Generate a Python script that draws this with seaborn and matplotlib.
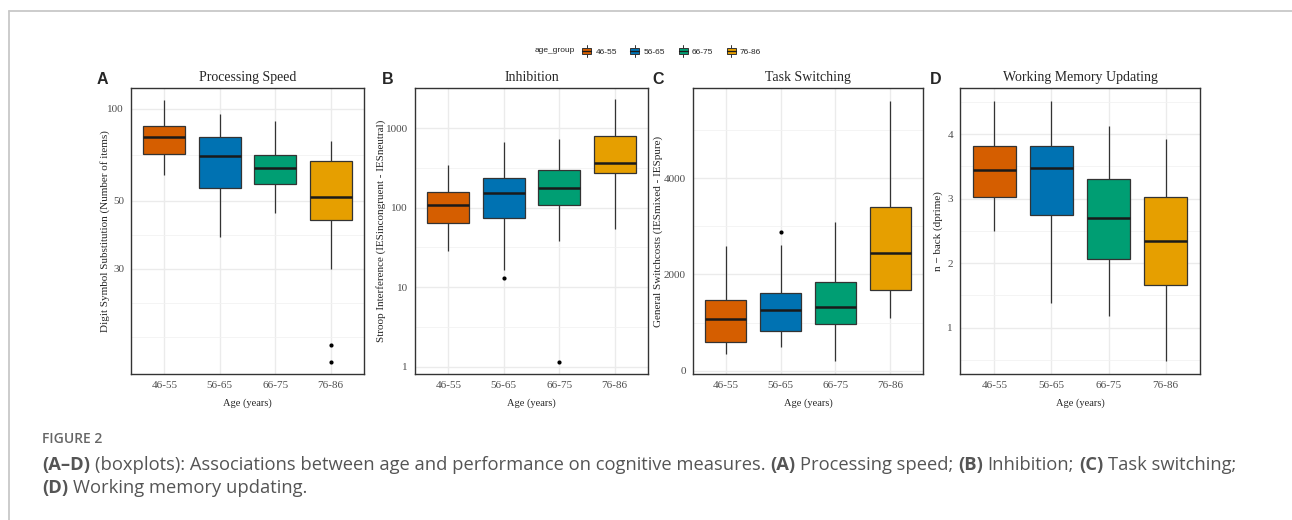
import numpy as np
import pandas as pd
import seaborn as sns
import matplotlib.pyplot as plt
from matplotlib.lines import Line2D
from matplotlib.patches import Rectangle
from matplotlib.legend_handler import HandlerBase
from matplotlib.ticker import FixedLocator, NullFormatter

# age groups and colours
groups = ["46-55", "56-65", "66-75", "76-86"]
colors = ["#D55E00", "#0072B2", "#009E73", "#E69F00"]

# five-number summaries: [low whisker, Q1, median, Q3, high whisker]
speed = [[61, 71, 81, 88, 107], [38, 55, 70, 81, 96],
         [45.7, 57, 64, 70.5, 91], [30, 43.4, 51.4, 67.7, 78.5]]
speed_out = [[], [], [], [16.9, 14.9]]

inhib = [[28.3, 64.6, 108, 159, 343], [16.6, 73.8, 153, 235, 676],
         [38.5, 109, 177, 297, 726], [54, 274, 367, 806, 2300]]
inhib_out = [[], [12.9], [1.14], []]

switch = [[341, 603, 1074, 1469, 2598], [499, 825, 1268, 1615, 2612],
          [202, 964, 1324, 1850, 3090], [1101, 1683, 2446, 3402, 5611]]
switch_out = [[], [2883], [], []]

nback = [[2.50, 3.03, 3.45, 3.81, 4.52], [1.38, 2.74, 3.47, 3.81, 4.52],
         [1.18, 2.07, 2.70, 3.31, 4.13], [0.48, 1.66, 2.34, 3.02, 3.93]]
nback_out = [[], [], [], []]

panels = [
    ("A", "Processing Speed", "Digit Symbol Substitution (Number of items)",
     speed, speed_out, True, [30, 50, 100], (13.6, 117)),
    ("B", "Inhibition", "Stroop Interference (IESincongruent - IESneutral)",
     inhib, inhib_out, True, [1, 10, 100, 1000], (0.81, 3200)),
    ("C", "Task Switching", "General Switchcosts (IESmixed - IESpure)",
     switch, switch_out, False, [0, 2000, 4000], (-69, 5871)),
    ("D", "Working Memory Updating", "n \u2212 back (dprime)",
     nback, nback_out, False, [1, 2, 3, 4], (0.281, 4.714)),
]

# panel boxes in pixels: left, width ; y label right edge ; panel letter x
W, H = 1292, 520
px_left = [131, 415, 693, 960]
px_width = [233, 233, 230, 240]
ylab_x = [110, 386, 663, 943]
letter_x = [97, 382, 652, 930]

sns.set_style("white")
serif = "Liberation Serif"
fig = plt.figure(figsize=(W / 100, H / 100), dpi=100)


def minor_breaks(majors, log):
    # ggplot-style minor breaks: midpoints of majors, plus one extra major each side
    b = np.log10(majors) if log else np.array(majors, dtype=float)
    d = np.diff(b)
    b = np.concatenate([[b[0] - d[0]], b, [b[-1] + d[-1]]])
    m = np.concatenate([(b[:-1] + b[1:]) / 2, [b[0], b[-1]]])
    return 10 ** m if log else m


for i, (letter, title, ylabel, stats, outs, log, majors, ylim) in enumerate(panels):
    ax = fig.add_axes([px_left[i] / W, 1 - 374 / H, px_width[i] / W, 286 / H])
    df = pd.DataFrame({"age_group": np.repeat(groups, 5),
                       "value": np.concatenate(stats)})
    sns.boxplot(data=df, x="age_group", y="value", hue="age_group", order=groups,
                hue_order=groups, palette=colors, saturation=1, width=0.75,
                whis=(0, 100), showcaps=False, showfliers=False,
                linecolor="#333333", linewidth=0.9,
                log_scale=True if log else None, legend=False,
                medianprops=dict(color="#1a1a1a", linewidth=1.8), ax=ax)
    odf = pd.DataFrame({"age_group": [g for g, o in zip(groups, outs) for _ in o],
                        "value": [v for o in outs for v in o]})
    if len(odf):
        sns.stripplot(data=odf, x="age_group", y="value", order=groups, jitter=False,
                      color="black", size=3, ax=ax,
                      log_scale=True if log else None)

    ax.set_xlim(-0.6, 3.6)
    ax.set_ylim(*ylim)
    ax.yaxis.set_major_locator(FixedLocator(majors))
    ax.set_yticklabels([str(m) for m in majors])
    ax.yaxis.set_minor_locator(FixedLocator(minor_breaks(majors, log)))
    ax.yaxis.set_minor_formatter(NullFormatter())
    ax.tick_params(which="minor", length=0)
    ax.tick_params(which="major", length=3, width=0.8, color="#333333",
                   labelsize=8, labelcolor="#4D4D4D", pad=2)
    for lab in ax.get_xticklabels() + ax.get_yticklabels():
        lab.set_fontfamily(serif)
    ax.grid(which="major", color="#EBEBEB", linewidth=1.0)
    ax.grid(which="minor", axis="y", color="#F2F2F2", linewidth=0.6)
    ax.set_axisbelow(True)
    for s in ax.spines.values():
        s.set_color("#333333")
        s.set_linewidth(1.0)

    ax.set_title(title, fontfamily=serif, fontsize=10, pad=5)
    ax.set_xlabel("Age (years)", fontfamily=serif, fontsize=7.5)
    ax.xaxis.set_label_coords(0.5, -(398 - 374) / 286)
    ax.set_ylabel(ylabel, fontfamily=serif, fontsize=8)
    ax.yaxis.set_label_coords((ylab_x[i] - px_left[i]) / px_width[i], 0.5)
    fig.text(letter_x[i] / W, 1 - 79 / H, letter, fontfamily="Liberation Sans",
             fontweight="bold", fontsize=11.5, va="center", ha="left")


# legend key drawn like a small boxplot
class BoxKey(HandlerBase):
    def create_artists(self, legend, orig, xd, yd, w, h, fontsize, trans):
        x0, y0 = -xd, -yd
        box = Rectangle((x0, y0 + 0.2 * h), w, 0.6 * h, facecolor=orig.get_facecolor(),
                        edgecolor="#333333", linewidth=0.7, transform=trans)
        med = Line2D([x0, x0 + w], [y0 + 0.5 * h] * 2, color="#1a1a1a", lw=0.9,
                     transform=trans)
        lo = Line2D([x0 + w / 2] * 2, [y0 - 0.05 * h, y0 + 0.2 * h], color="#333333",
                    lw=0.7, transform=trans)
        hi = Line2D([x0 + w / 2] * 2, [y0 + 0.8 * h, y0 + 1.05 * h], color="#333333",
                    lw=0.7, transform=trans)
        return [lo, hi, box, med]


handles = [Rectangle((0, 0), 1, 1, facecolor=c) for c in colors]
fig.text(575 / W, 1 - 51 / H, "age_group", fontsize=6, fontfamily="Liberation Sans",
         ha="right", va="center")
fig.legend(handles, groups, handler_map={Rectangle: BoxKey()}, loc="center left",
           bbox_to_anchor=(578 / W, 1 - 51 / H), ncol=4, frameon=False,
           prop={"family": "Liberation Sans", "size": 6}, handlelength=1.1,
           handleheight=1.5, handletextpad=0.5, columnspacing=1.6, borderpad=0)

# outer frame of the figure box
fig.add_artist(Line2D([9 / W, 1], [1 - 11 / H] * 2, color="#C8C8C8", lw=1.3,
                      transform=fig.transFigure))
fig.add_artist(Line2D([9 / W] * 2, [0, 1 - 11 / H], color="#C8C8C8", lw=1.3,
                      transform=fig.transFigure))

# caption with bold fragments
cap_font = "Open Sans"
renderer = fig.canvas.get_renderer()


def text_width(s, size, weight):
    t = fig.text(0, 0, s, fontsize=size, fontfamily=cap_font, fontweight=weight)
    w = t.get_window_extent(renderer).width
    t.remove()
    return w


def rich_line(x, y, parts, size=13.2, color="#555555"):
    for txt, bold in parts:
        weight = "bold" if bold else "normal"
        core = txt.rstrip()
        fig.text(x / W, 1 - y / H, core, fontsize=size, fontfamily=cap_font,
                 fontweight=weight, color=color, va="center", ha="left")
        space = text_width("x x", size, weight) - text_width("xx", size, weight)
        x += text_width(core, size, weight) + space * (len(txt) - len(core))


fig.text(42 / W, 1 - 439 / H, "FIGURE 2", fontsize=10, fontfamily=cap_font,
         fontweight="semibold", color="#666666", va="center", ha="left")
rich_line(42, 465, [("(A\u2013D) ", True),
                    ("(boxplots): Associations between age and performance on cognitive measures. ", False),
                    ("(A) ", True), ("Processing speed; ", False),
                    ("(B) ", True), ("Inhibition; ", False),
                    ("(C) ", True), ("Task switching;", False)])
rich_line(42, 488, [("(D) ", True), ("Working memory updating.", False)])

fig.savefig("out.png", dpi=100)
